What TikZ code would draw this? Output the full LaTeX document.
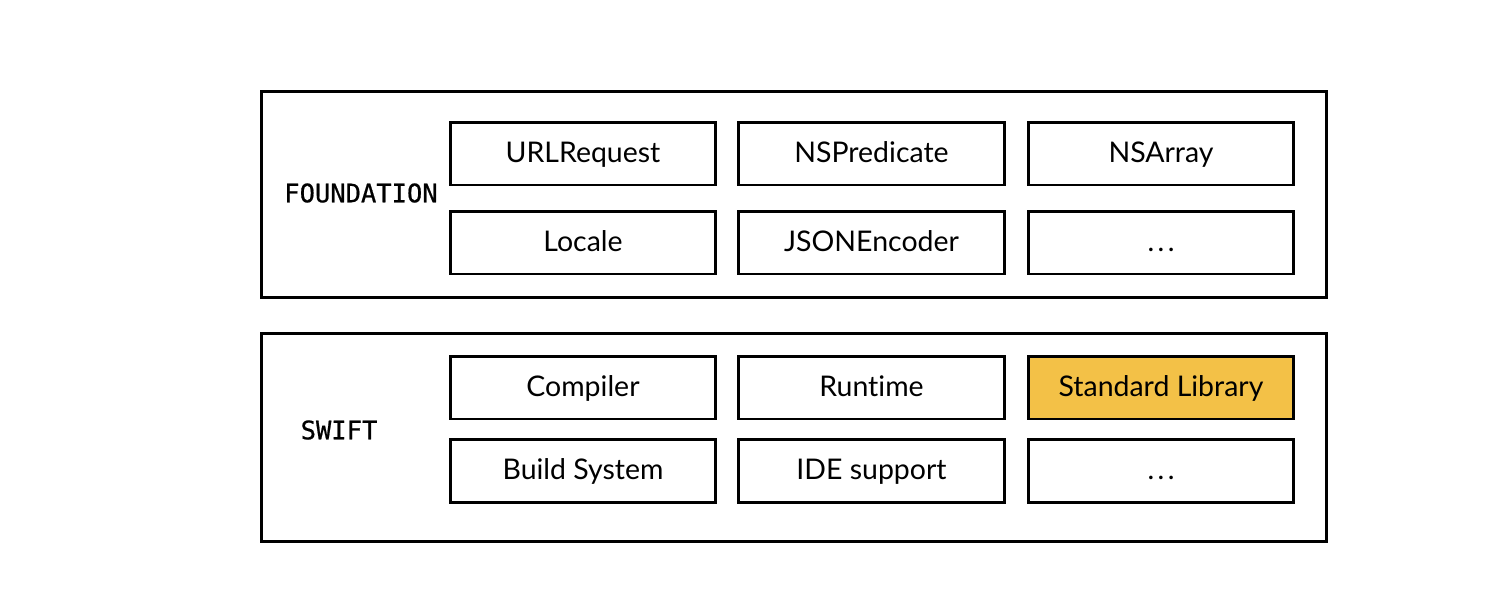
\documentclass[tikz,border=0pt]{standalone}
\usepackage{fontspec}
\setmainfont[Ligatures=NoCommon]{Lato}
\setmonofont[FakeBold=0.7]{DejaVu Sans Mono}
\usetikzlibrary{positioning}
\definecolor{stdyellow}{HTML}{F3C147}

\begin{document}
\begin{tikzpicture}[x=0.02cm, y=-0.02cm,
    layer/.style={draw, line width=1.7pt, minimum width=21.32cm, inner sep=0pt},
    part/.style={draw, line width=1.7pt, minimum width=5.32cm, minimum height=1.26cm, inner sep=0pt, text height=2.1ex, text depth=0.1ex, font=\fontsize{16.2}{18}\selectfont},
    tag/.style={font=\ttfamily\fontsize{14.5}{16}\selectfont}]
        \useasboundingbox (0,0) rectangle (1512,606);

        % Foundation layer
        \node (found) [layer, minimum height=4.14cm] at (794,194.5) {};
        \node (foundtag) [tag] at (361,193) {FOUNDATION};
        \node (urlreq) [part] at (583,153.5) {URLRequest};
        \node (nspred) [part] at (871.5,153.5) {NSPredicate};
        \node (nsarray) [part] at (1161,153.5) {NSArray};
        \node (locale) [part] at (583,242.5) {Locale};
        \node (jsonenc) [part] at (871.5,242.5) {JSONEncoder};
        \node (fmore) [part] at (1161,242.5) {.\hspace{0.12em}.\hspace{0.12em}.};

        % Swift layer
        \node (swift) [layer, minimum height=4.18cm] at (794,437.5) {};
        \node (swifttag) [tag] at (339,430) {SWIFT};
        \node (compiler) [part] at (583,387.5) {Compiler};
        \node (runtime) [part] at (871.5,387.5) {Runtime};
        \node (stdlib) [part, fill=stdyellow] at (1161,387.5) {Standard Library};
        \node (build) [part] at (583,471) {Build System};
        \node (ide) [part] at (871.5,471) {IDE support};
        \node (smore) [part] at (1161,471) {.\hspace{0.12em}.\hspace{0.12em}.};
    \end{tikzpicture}
\end{document}
